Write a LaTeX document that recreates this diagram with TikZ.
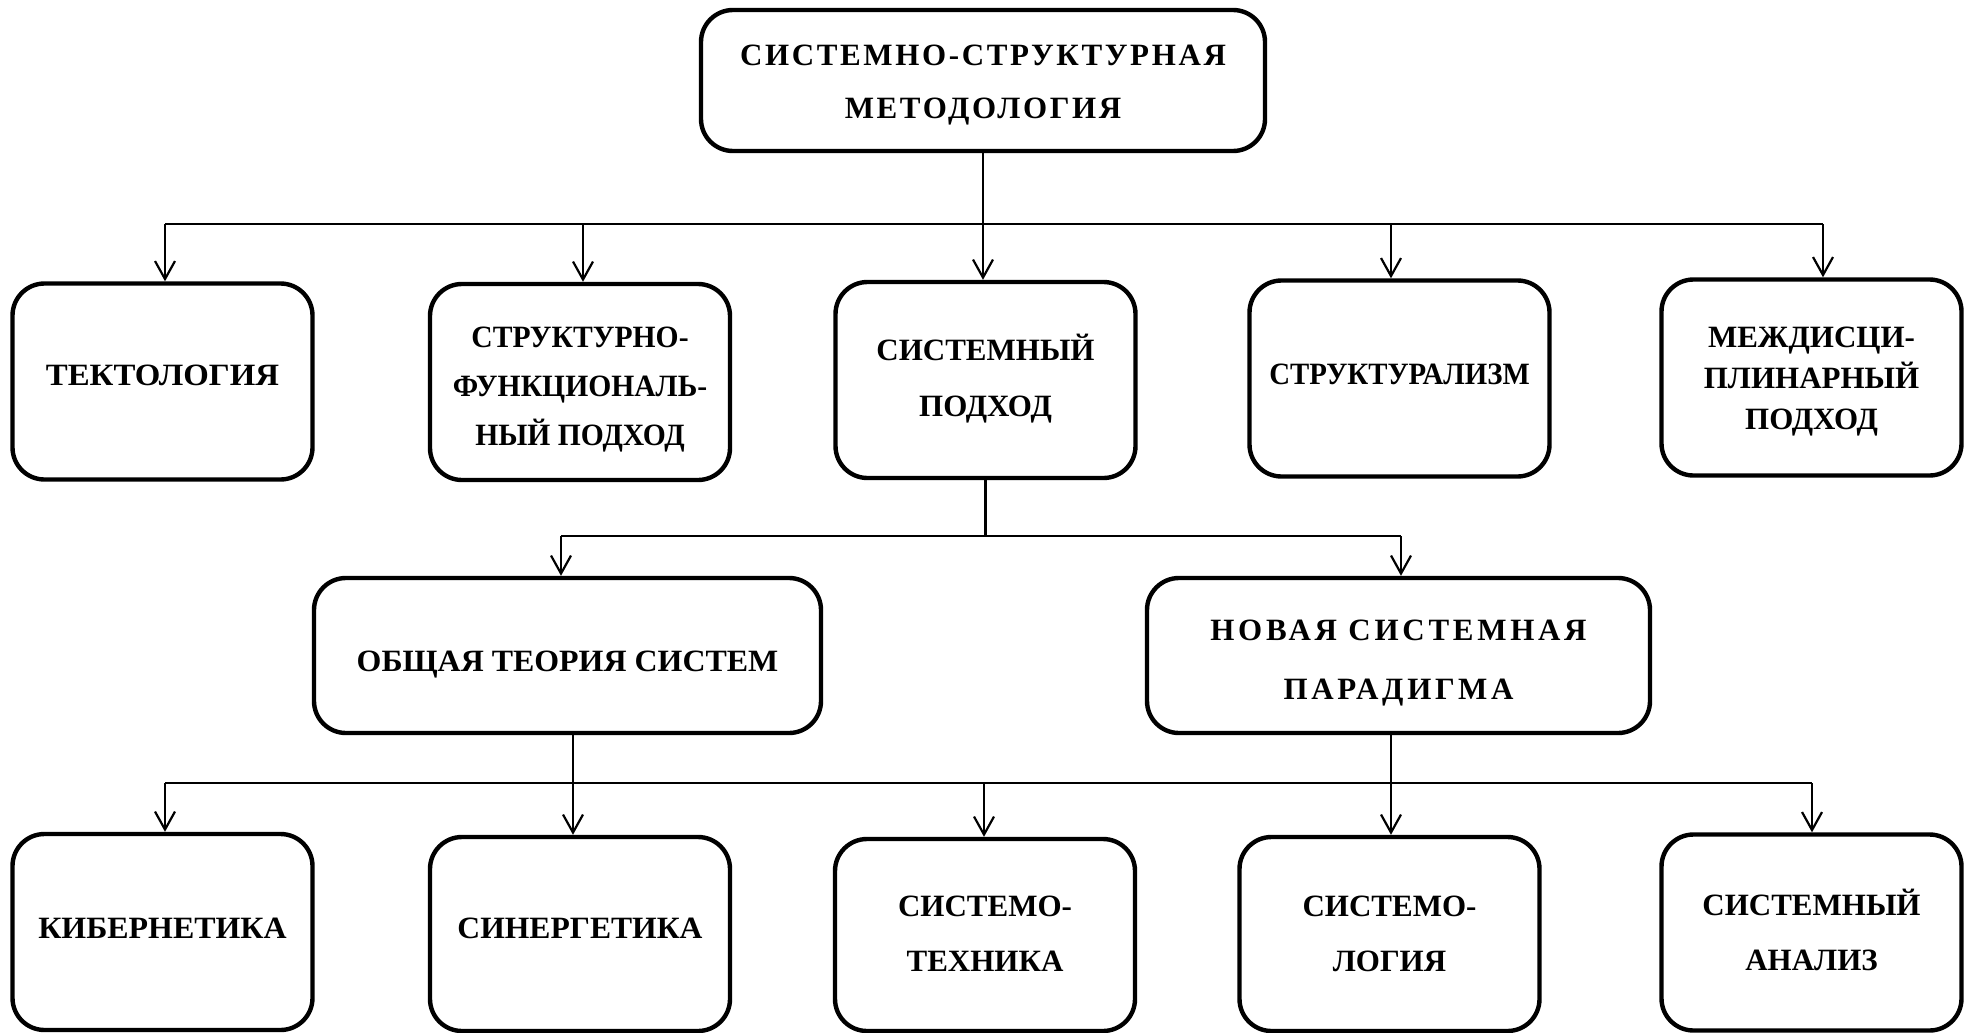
\documentclass[tikz,border=0pt]{standalone}
\usepackage{fontspec}
\usepackage{graphicx}
\setmainfont{Liberation Serif}
\usetikzlibrary{arrows.meta}
\newcommand{\boxfont}[1]{\bfseries\fontsize{15.5}{#1}\selectfont}
\newcommand{\spacedfont}[2]{\bfseries\fontsize{15.5}{#1}\selectfont\addfontfeature{LetterSpace=#2}}
\begin{document}
\begin{tikzpicture}[x=0.5pt,y=-0.5pt,
  box/.style={draw,line width=2.2pt,rounded corners=16pt,inner sep=0pt,
    minimum width=150pt,minimum height=98pt},
  txt/.style={inner sep=0pt,align=center},
  ln/.style={line width=1.1pt},
  arr/.style={line width=1.1pt,-{Straight Barb[length=9pt,width=10pt,line width=1.1pt]}}]
\useasboundingbox (0,0) rectangle (1970,1033);

% top
\node[box,minimum width=282pt,minimum height=70.5pt] (top) at (983,80.5) {};
\node[txt,font=\spacedfont{26.5pt}{8.5}] (topT) at ([yshift=-2.5pt]top.center)
  {СИСТЕМНО-СТРУКТУРНАЯ\\МЕТОДОЛОГИЯ};

% row 2
\node[box] (tek) at (162.5,381.5) {};
\node[txt,font=\boxfont{24pt}] (tekT) at ([yshift=3pt]tek.center) {\scalebox{1.06}[1]{ТЕКТОЛОГИЯ}};
\node[box] (sf) at (580,382) {};
\node[txt,font=\boxfont{24.5pt}] (sfT) at ([yshift=-4pt]sf.center)
  {\scalebox{0.955}[1]{СТРУКТУРНО-}\\\scalebox{0.955}[1]{ФУНКЦИОНАЛЬ-}\\\scalebox{0.955}[1]{НЫЙ ПОДХОД}};
\node[box] (sp) at (985.5,380) {};
\node[txt,font=\boxfont{28pt}] (spT) at ([yshift=0.5pt]sp.center) {СИСТЕМНЫЙ\\ПОДХОД};
\node[box] (str) at (1399.5,378.5) {};
\node[txt,font=\boxfont{24pt}] (strT) at ([yshift=2pt]str.center) {\scalebox{0.93}[1]{СТРУКТУРАЛИЗМ}};
\node[box] (mp) at (1811.5,377.5) {};
\node[txt,font=\boxfont{20.5pt}] (mpT) at ([yshift=-2pt]mp.center) {МЕЖДИСЦИ-\\ПЛИНАРНЫЙ\\ПОДХОД};

% row 3
\node[box,minimum width=253.5pt,minimum height=77.5pt] (ots) at (567.5,655.5) {};
\node[txt,font=\boxfont{24pt}] (otsT) at ([yshift=-4.5pt]ots.center) {\scalebox{1.03}[1]{ОБЩАЯ ТЕОРИЯ СИСТЕМ}};
\node[box,minimum width=251.5pt,minimum height=77.5pt] (nsp) at (1398.5,655.5) {};
\node[txt,font=\spacedfont{29.5pt}{12}] (nspT) at ([yshift=-3.75pt]nsp.center) {НОВАЯ СИСТЕМНАЯ\\ПАРАДИГМА};

% row 4
\node[box] (kib) at (162.5,932) {};
\node[txt,font=\boxfont{24pt}] (kibT) at ([yshift=2pt]kib.center) {\scalebox{1.03}[1]{КИБЕРНЕТИКА}};
\node[box,minimum height=97pt] (sin) at (580,934) {};
\node[txt,font=\boxfont{24pt}] (sinT) at ([yshift=3pt]sin.center) {\scalebox{1.02}[1]{СИНЕРГЕТИКА}};
\node[box,minimum height=96pt] (stek) at (985,935) {};
\node[txt,font=\boxfont{27.5pt}] (stekT) at ([yshift=0.5pt]stek.center) {СИСТЕМО-\\ТЕХНИКА};
\node[box,minimum height=97pt] (slog) at (1389.5,934) {};
\node[txt,font=\boxfont{27.5pt}] (slogT) at (slog.center) {СИСТЕМО-\\ЛОГИЯ};
\node[box] (sa) at (1811.5,932.5) {};
\node[txt,font=\boxfont{27.5pt}] (saT) at ([yshift=1.25pt]sa.center) {СИСТЕМНЫЙ\\АНАЛИЗ};

% bus 1
\coordinate (a1) at (165,224);
\coordinate (a2) at (583,224);
\coordinate (a4) at (1391,224);
\coordinate (a5) at (1823,224);
\draw[ln] (a1) -- (a5);
\draw[arr] (top.south) -- (top.south |- sp.north);
\draw[arr] (a1) -- (a1 |- tek.north);
\draw[arr] (a2) -- (a2 |- sf.north);
\draw[arr] (a4) -- (a4 |- str.north);
\draw[arr] (a5) -- (a5 |- mp.north);

% bus 2
\coordinate (b1) at (561,536);
\coordinate (b2) at (1401,536);
\draw[ln] (sp.south) -- (sp.south |- b1);
\draw[ln] (b1) -- (b2);
\draw[arr] (b1) -- (b1 |- ots.north);
\draw[arr] (b2) -- (b2 |- nsp.north);

% bus 3
\coordinate (c1) at (165,783);
\coordinate (c2) at (573,783);
\coordinate (c3) at (984,783);
\coordinate (c4) at (1391,783);
\coordinate (c5) at (1812,783);
\draw[ln] (c1) -- (c5);
\draw[arr] (c2 |- ots.south) -- (c2 |- sin.north);
\draw[arr] (c4 |- nsp.south) -- (c4 |- slog.north);
\draw[arr] (c1) -- (c1 |- kib.north);
\draw[arr] (c3) -- (c3 |- stek.north);
\draw[arr] (c5) -- (c5 |- sa.north);
\end{tikzpicture}
\end{document}
